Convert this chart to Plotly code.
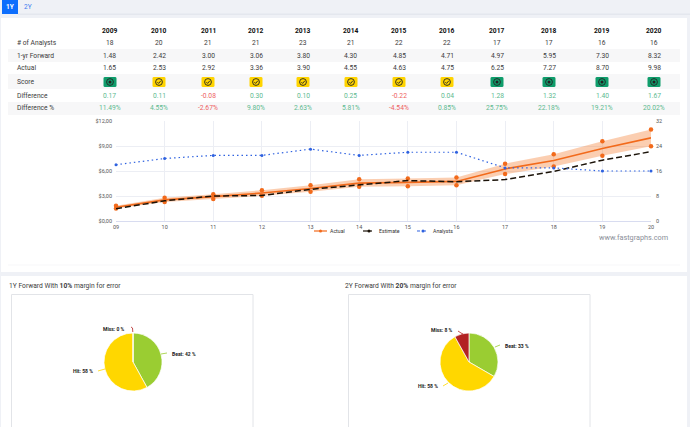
import plotly.graph_objects as go

W, H = 690, 427

YEARS = ['2009', '2010', '2011', '2012', '2013', '2014', '2015', '2016', '2017', '2018', '2019', '2020']
TICKS = ['09', '10', '11', '12', '13', '14', '15', '16', '17', '18', '19', '20']
ANALYSTS = [18, 20, 21, 21, 23, 21, 22, 22, 17, 17, 16, 16]
FORWARD = [1.48, 2.42, 3.00, 3.06, 3.80, 4.30, 4.85, 4.71, 4.97, 5.95, 7.30, 8.32]
ACTUAL = [1.65, 2.53, 2.92, 3.36, 3.90, 4.55, 4.63, 4.75, 6.25, 7.27, 8.70, 9.98]
SCORE = ['g', 'y', 'y', 'y', 'y', 'y', 'y', 'y', 'g', 'g', 'g', 'g']
DIFF = ['0.17', '0.11', '-0.08', '0.30', '0.10', '0.25', '-0.22', '0.04', '1.28', '1.32', '1.40', '1.67']
DIFF_PCT = ['11.49%', '4.55%', '-2.67%', '9.80%', '2.63%', '5.81%', '-4.54%', '0.85%', '25.75%', '22.18%', '19.21%', '20.02%']
UPPER = [1.82, 2.78, 3.21, 3.70, 4.29, 5.00, 5.09, 5.23, 6.88, 8.00, 9.57, 10.98]
LOWER = [1.49, 2.28, 2.63, 3.02, 3.51, 4.10, 4.17, 4.28, 5.63, 6.54, 7.83, 8.98]
LEFT_TICKS = [0, 3, 6, 9, 12]
LEFT_LABELS = ['$0,00', '$3,00', '$6,00', '$9,00', '$12,00']
RIGHT_TICKS = [0, 8, 16, 24, 32]
PIE_LABELS = ['Beat', 'Hit', 'Miss']
PIE_1Y = [42, 58, 0]
PIE_2Y = [33, 58, 8]
PIE_COLORS = ['#9acd32', '#ffd700', '#b22222']

COLS = [110, 159, 208, 256, 303, 351, 399, 447, 497, 549, 602, 654]
ORANGE = '#f26a1b'
BLACK = '#1a1208'
BLUE = '#2f62e0'
TXT = '#3c3c3c'
GREEN = '#5dba90'
RED = '#ee5f5f'


def px(x):
    return x / W


def py(y):
    return 1 - y / H


shapes = []
annotations = []


def rect(x0, y0, x1, y1, fill, line=None):
    shapes.append(dict(type='rect', xref='paper', yref='paper', layer='below',
                       x0=px(x0), x1=px(x1), y0=py(y0), y1=py(y1), fillcolor=fill,
                       line=dict(color=line or fill, width=1 if line else 0)))


def text(x, y, s, size=6.7, color=TXT, anchor='center'):
    annotations.append(dict(xref='paper', yref='paper', x=px(x), y=py(y), text=s, showarrow=False,
                            xanchor=anchor, yanchor='middle', borderpad=0,
                            font=dict(family='Roboto', size=size, color=color)))


def seg(points, color, width=1, dash='solid'):
    d = 'M' + ' L'.join(f'{px(a):.5f},{py(b):.5f}' for a, b in points)
    shapes.append(dict(type='path', xref='paper', yref='paper', path=d, layer='above',
                       line=dict(color=color, width=width, dash=dash)))


def dot(x, y, r, color):
    shapes.append(dict(type='circle', xref='paper', yref='paper', layer='above',
                       x0=px(x - r), x1=px(x + r), y0=py(y - r), y1=py(y + r),
                       fillcolor=color, line=dict(width=0)))


def rounded(x0, y0, x1, y1, r, fill):
    d = (f'M{px(x0 + r):.5f},{py(y0):.5f} L{px(x1 - r):.5f},{py(y0):.5f} '
         f'Q{px(x1):.5f},{py(y0):.5f} {px(x1):.5f},{py(y0 + r):.5f} '
         f'L{px(x1):.5f},{py(y1 - r):.5f} Q{px(x1):.5f},{py(y1):.5f} {px(x1 - r):.5f},{py(y1):.5f} '
         f'L{px(x0 + r):.5f},{py(y1):.5f} Q{px(x0):.5f},{py(y1):.5f} {px(x0):.5f},{py(y1 - r):.5f} '
         f'L{px(x0):.5f},{py(y0 + r):.5f} Q{px(x0):.5f},{py(y0):.5f} {px(x0 + r):.5f},{py(y0):.5f} Z')
    shapes.append(dict(type='path', xref='paper', yref='paper', path=d, layer='below',
                       fillcolor=fill, line=dict(width=0)))


def badge(x, y, kind):
    fill = '#0f9d6b' if kind == 'g' else '#ffd400'
    rounded(x - 6.5, y - 5, x + 6.5, y + 5, 1.5, fill)
    shapes.append(dict(type='circle', xref='paper', yref='paper', layer='above',
                       x0=px(x - 3.4), x1=px(x + 3.4), y0=py(y - 3.4), y1=py(y + 3.4),
                       line=dict(color='#222222', width=0.9)))
    if kind == 'g':
        dot(x, y, 1.5, '#222222')
    else:
        seg([(x - 1.6, y + 0.2), (x - 0.4, y + 1.4), (x + 1.8, y - 1.2)], '#222222', 0.9)


# page panels
rect(1, 18, 687, 272, '#ffffff')
rect(1, 276, 687, 427, '#ffffff')
rect(8, 264.7, 680, 265.3, '#eef0f3')
rect(2, 0, 18, 14, '#0d6efd')
rect(18, 13.5, 690, 15, '#e4e7ee')
text(10, 7, '<b>1Y</b>', 6.5, '#ffffff')
text(28, 7, '2Y', 6.5, '#3d7bf0')

# table
for y0, y1 in [(49, 62), (74, 89), (102, 115)]:
    rect(8, y0, 680, y1, '#f7f7f8')
ROW_Y = dict(head=31, analysts=43, forward=55.5, actual=68, score=82, diff=96, pct=108.5)
text(16, ROW_Y['analysts'], '# of Analysts', anchor='left')
text(16, ROW_Y['forward'], '1-yr Forward', anchor='left')
text(16, ROW_Y['actual'], 'Actual', anchor='left')
text(16, ROW_Y['score'], 'Score', anchor='left')
text(16, ROW_Y['diff'], 'Difference', anchor='left')
text(16, ROW_Y['pct'], 'Difference %', anchor='left')
for i, x in enumerate(COLS):
    text(x, ROW_Y['head'], f'<b>{YEARS[i]}</b>', 6.7, '#111111')
    text(x, ROW_Y['analysts'], str(ANALYSTS[i]))
    text(x, ROW_Y['forward'], f'{FORWARD[i]:.2f}')
    text(x, ROW_Y['actual'], f'{ACTUAL[i]:.2f}')
    badge(x, ROW_Y['score'], SCORE[i])
    c = RED if DIFF[i].startswith('-') else GREEN
    text(x, ROW_Y['diff'], DIFF[i], 6.7, c)
    text(x, ROW_Y['pct'], DIFF_PCT[i], 6.7, c)

fig = go.Figure()

# band
fig.add_trace(go.Scatter(x=TICKS, y=UPPER, mode='lines', line=dict(width=0), showlegend=False, hoverinfo='skip'))
fig.add_trace(go.Scatter(x=TICKS, y=LOWER, mode='lines', line=dict(width=0), fill='tonexty',
                         fillcolor='rgba(245,125,50,0.38)', showlegend=False, hoverinfo='skip'))
fig.add_trace(go.Scatter(x=TICKS, y=UPPER, mode='markers', marker=dict(color=ORANGE, size=4.5),
                         cliponaxis=False, showlegend=False))
fig.add_trace(go.Scatter(x=TICKS, y=LOWER, mode='markers', marker=dict(color=ORANGE, size=4.5),
                         cliponaxis=False, showlegend=False))
fig.add_trace(go.Scatter(x=TICKS, y=ACTUAL, name='Actual', mode='lines', showlegend=False,
                         line=dict(color=ORANGE, width=1.6)))
fig.add_trace(go.Scatter(x=TICKS, y=FORWARD, name='Estimate', mode='lines', showlegend=False,
                         line=dict(color=BLACK, width=1.5, dash='6px,3px')))
fig.add_trace(go.Scatter(x=TICKS, y=ANALYSTS, name='Analysts', mode='lines+markers', yaxis='y2', showlegend=False,
                         cliponaxis=False,
                         line=dict(color=BLUE, width=1.2, dash='1.5px,3px'), marker=dict(color=BLUE, size=3)))

# legend under the chart
seg([(314, 231), (327, 231)], ORANGE, 1.2)
dot(320.5, 231, 1.5, ORANGE)
text(329, 231, 'Actual', 5.2, '#333333', 'left')
seg([(363, 231), (375, 231)], BLACK, 1.2, 'dash')
dot(369, 231, 1.5, BLACK)
text(378, 231, 'Estimate', 5.2, '#333333', 'left')
seg([(417, 231), (429, 231)], BLUE, 1, 'dot')
dot(423, 231, 1.5, BLUE)
text(432, 231, 'Analysts', 5.2, '#333333', 'left')

text(633.5, 237.5, 'www.fastgraphs.com', 7.3, '#8a8f98')

# pies
text(8, 286, '1Y Forward With <b>10%</b> margin for error', anchor='left')
text(344, 286, '2Y Forward With <b>20%</b> margin for error', anchor='left')
rect(11.5, 294.5, 253, 440, '#ffffff', '#e2e4e8')
rect(348.5, 294.5, 590, 440, '#ffffff', '#e2e4e8')

R = 29
for vals, cx in [(PIE_1Y, 133), (PIE_2Y, 469)]:
    fig.add_trace(go.Pie(labels=PIE_LABELS, values=vals, sort=False, direction='clockwise', rotation=0,
                         marker=dict(colors=PIE_COLORS, line=dict(color='#ffffff', width=0.7)),
                         textinfo='none', showlegend=False,
                         domain=dict(x=[px(cx - R), px(cx + R)], y=[py(362 + R), py(362 - R)])))

# pie callouts
text(126, 329, '<b>Miss: 0 %</b>', 5, '#222222', 'right')
seg([(131, 327), (132.5, 328), (132.8, 332)], '#b22222', 0.8)
text(171, 354, '<b>Beat: 42 %</b>', 5, '#222222', 'left')
seg([(161, 354), (167, 353)], '#9acd32', 0.8)
text(94, 371, '<b>Hit: 58 %</b>', 5, '#222222', 'right')
seg([(98, 371), (105, 369)], '#ffd700', 0.8)

text(454, 330, '<b>Miss: 8 %</b>', 5, '#222222', 'right')
seg([(458, 331), (461, 333), (463, 334)], '#b22222', 0.8)
text(504, 346, '<b>Beat: 33 %</b>', 5, '#222222', 'left')
seg([(495, 347), (500, 345)], '#9acd32', 0.8)
text(439, 386, '<b>Hit: 58 %</b>', 5, '#222222', 'right')
seg([(443, 386), (448, 383)], '#ffd700', 0.8)

tick_font = dict(family='Roboto', size=5.5, color='#555555')
fig.update_layout(
    width=W, height=H, autosize=False,
    margin=dict(l=0, r=0, t=0, b=0, pad=0, autoexpand=False),
    paper_bgcolor='#eff1f6', plot_bgcolor='#ffffff',
    shapes=shapes, annotations=annotations, showlegend=False,
    xaxis=dict(domain=[px(116), px(651)], type='category', categoryorder='array', categoryarray=TICKS,
               range=[0, 11], tickfont=tick_font, gridcolor='#eceef4', gridwidth=1,
               linecolor='#d8dcf0', showline=True, ticks='', zeroline=False),
    yaxis=dict(domain=[py(221), py(121)], range=[0, 12], tickvals=LEFT_TICKS, ticktext=LEFT_LABELS,
               tickfont=tick_font, gridcolor='#eceef4', zeroline=False, ticks='', ticklabelstandoff=3),
    yaxis2=dict(domain=[py(221), py(121)], overlaying='y', side='right', range=[0, 32], tickvals=RIGHT_TICKS,
                tickfont=tick_font, showgrid=False, zeroline=False, ticks='', ticklabelstandoff=4),
)

fig.write_html('out.html', config=dict(displayModeBar=False),
               post_script="document.body.style.margin='0';document.body.style.overflow='hidden';")
